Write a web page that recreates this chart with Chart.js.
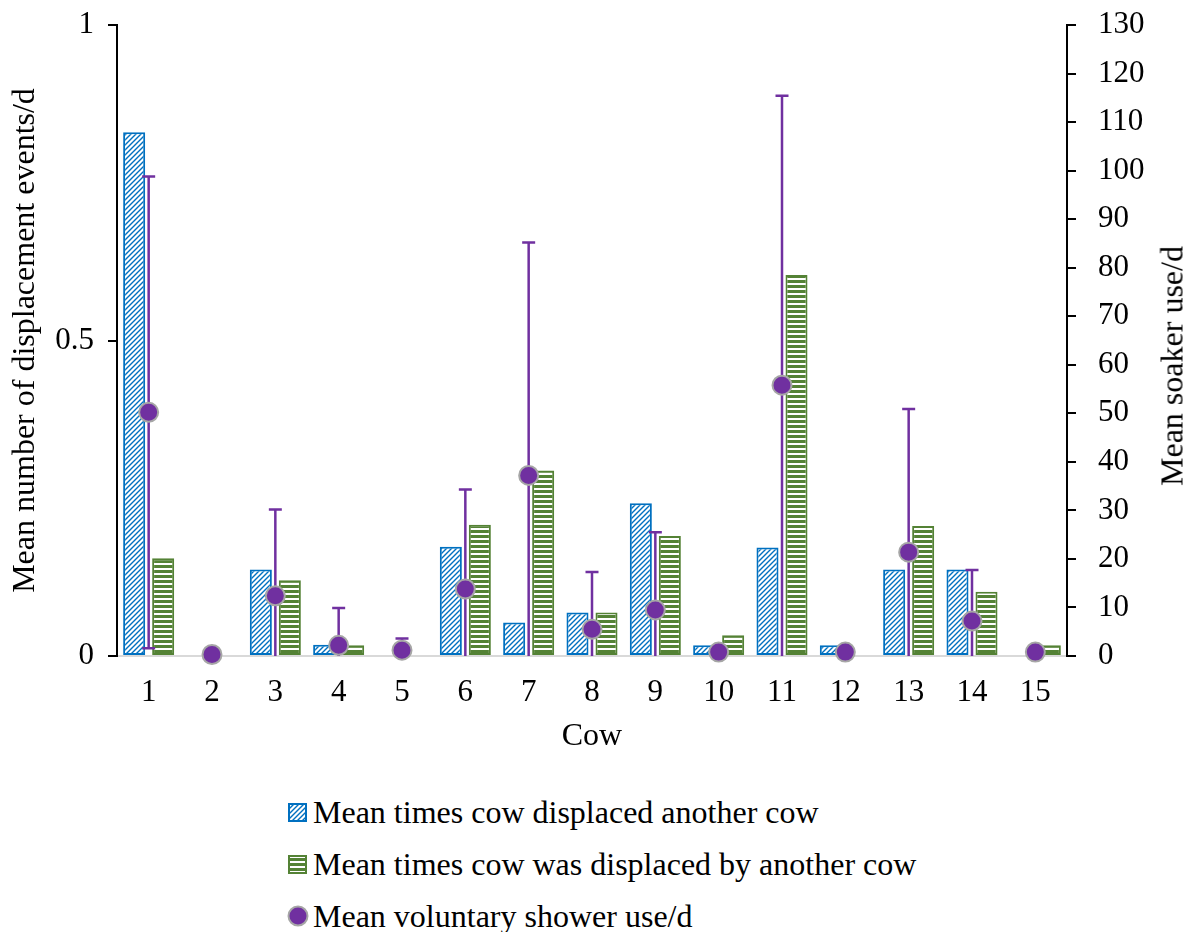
<!DOCTYPE html>
<html>
<head>
<meta charset="utf-8">
<title>Cow displacement and soaker use</title>
<script src="https://cdn.jsdelivr.net/npm/chart.js@4.4.1/dist/chart.umd.min.js"></script>
<style>
  body { margin: 0; background: #fff; font-family: 'Liberation Serif', 'Times New Roman', serif; }
  #wrap { position: relative; width: 1192px; height: 932px; overflow: hidden; }
  #chartBox { position: absolute; left: 0; top: 0; width: 1192px; height: 780px; }
  #rightTitle {
    position: absolute; left: 1172px; top: 366px;
    transform: translate(-50%, -50%) rotate(-90deg);
    font-size: 32px; white-space: nowrap; color: #000;
  }
  .legend-row {
    position: absolute; left: 287px; height: 40px;
    display: flex; align-items: center;
    font-size: 32px; color: #000; white-space: nowrap;
  }
  .legend-row canvas { margin-right: 4px; }
</style>
</head>
<body>
<div id="wrap">
  <div id="chartBox"><canvas id="cowChart"></canvas></div>
  <div id="rightTitle">Mean soaker use/d</div>
  <div class="legend-row" style="top:792px"><canvas id="swDisp" width="22" height="22"></canvas>Mean times cow displaced another cow</div>
  <div class="legend-row" style="top:844px"><canvas id="swWas" width="22" height="22"></canvas>Mean times cow was displaced by another cow</div>
  <div class="legend-row" style="top:896px"><canvas id="swShower" width="22" height="22"></canvas>Mean voluntary shower use/d</div>
</div>

<script>
// Data per cow
const cows = ['1', '2', '3', '4', '5', '6', '7', '8', '9', '10', '11', '12', '13', '14', '15'];
const displacedOther = [0.83, 0, 0.137, 0.018, 0, 0.173, 0.053, 0.069, 0.242, 0.017, 0.172, 0.017, 0.137, 0.137, 0];
const wasDisplaced = [0.155, 0, 0.12, 0.017, 0, 0.208, 0.294, 0.069, 0.19, 0.033, 0.604, 0, 0.206, 0.102, 0.017];
const showerMean = [50.2, 0.3, 12.4, 2.2, 1.2, 13.8, 37.2, 5.5, 9.5, 0.8, 55.8, 0.8, 21.4, 7.2, 0.8];
const showerSD = [48.6, 0, 17.8, 7.7, 2.4, 20.5, 48.0, 11.8, 16.0, 0, 59.6, 0, 29.5, 10.5, 0];
const leftTicks = [0, 0.5, 1];
const rightMax = 130;

const FONT = "'Liberation Serif', 'Times New Roman', serif";
const BLUE = '#0070C0';
const GREEN = '#548235';
const PURPLE = '#7030A0';

// Hatch fills
function makePattern(w, h, paint) {
    const c = document.createElement('canvas');
    c.width = w; c.height = h;
    const g = c.getContext('2d');
    g.fillStyle = '#fff';
    g.fillRect(0, 0, w, h);
    paint(g);
    return g.createPattern(c, 'repeat');
}
const blueHatch = makePattern(5, 5, g => {
    g.strokeStyle = BLUE;
    g.lineWidth = 1.4;
    g.beginPath();
    g.moveTo(0, 5); g.lineTo(5, 0);
    g.moveTo(-1, 1); g.lineTo(1, -1);
    g.moveTo(4, 6); g.lineTo(6, 4);
    g.stroke();
});
const greenLines = makePattern(4, 5, g => {
    g.fillStyle = GREEN;
    g.fillRect(0, 0, 4, 3);
});

// Vertical error bars for the shower series
const errorBars = {
    id: 'errorBars',
    beforeDatasetDraw(chart, args) {
        if (args.index !== 2) return;
        const xs = chart.scales.x, ys = chart.scales.y1, area = chart.chartArea;
        const ctx = chart.ctx;
        ctx.save();
        ctx.strokeStyle = PURPLE;
        ctx.lineWidth = 2.5;
        showerMean.forEach((m, i) => {
            const sd = showerSD[i];
            if (!sd) return;
            const px = xs.getPixelForValue(i);
            const top = ys.getPixelForValue(m + sd);
            const lo = m - sd;
            const bot = lo > 0 ? ys.getPixelForValue(lo) : area.bottom;
            ctx.beginPath();
            ctx.moveTo(px, top); ctx.lineTo(px, bot);
            ctx.moveTo(px - 6.5, top); ctx.lineTo(px + 6.5, top);
            if (lo > 0) { ctx.moveTo(px - 6.5, bot); ctx.lineTo(px + 6.5, bot); }
            ctx.stroke();
        });
        ctx.restore();
    }
};

const barBorder = ctx => (ctx.raw ? 2 : 0);

// vertical axes: fixed width, no extra label overflow padding
const fixVertical = w => s => {
    s.width = w;
    s.paddingTop = 0;
    s.paddingBottom = 0;
};

new Chart(document.getElementById('cowChart'), {
    data: {
        labels: cows,
        datasets: [{
            type: 'bar',
            label: 'Mean times cow displaced another cow',
            data: displacedOther,
            backgroundColor: blueHatch,
            borderColor: BLUE,
            borderWidth: barBorder,
            borderSkipped: false,
            yAxisID: 'y',
            order: 1,
            barPercentage: 0.76,
            categoryPercentage: 0.916
        }, {
            type: 'bar',
            label: 'Mean times cow was displaced by another cow',
            data: wasDisplaced,
            backgroundColor: greenLines,
            borderColor: GREEN,
            borderWidth: barBorder,
            borderSkipped: false,
            yAxisID: 'y',
            order: 2,
            barPercentage: 0.76,
            categoryPercentage: 0.916
        }, {
            type: 'line',
            label: 'Mean voluntary shower use/d',
            data: showerMean,
            showLine: false,
            pointRadius: 9.5,
            pointBorderWidth: 2,
            pointBackgroundColor: PURPLE,
            pointBorderColor: '#A6A6A6',
            yAxisID: 'y1',
            order: 0,
            clip: false
        }]
    },
    options: {
        responsive: true,
        maintainAspectRatio: false,
        animation: false,
        layout: { padding: { top: 25, left: 0, right: 0, bottom: 0 } },
        plugins: {
            legend: { display: false },
            tooltip: { enabled: false }
        },
        scales: {
            x: {
                offset: true,
                grid: { display: false, drawTicks: false },
                border: { display: true, color: '#D9D9D9', width: 2 },
                ticks: { color: '#000', font: { family: FONT, size: 31 }, padding: 18, maxRotation: 0 },
                title: { display: true, text: 'Cow', color: '#000', font: { family: FONT, size: 32 }, padding: { top: 0, bottom: 24 } },
                afterFit: s => { s.height = 124; }
            },
            y: {
                position: 'left',
                min: 0, max: 1,
                afterBuildTicks: s => { s.ticks = leftTicks.map(v => ({ value: v })); },
                grid: { drawOnChartArea: false, drawTicks: true, tickLength: 9, color: '#000', lineWidth: 2 },
                border: { display: true, color: '#000', width: 2 },
                ticks: { color: '#000', font: { family: FONT, size: 31 }, padding: 14, callback: v => String(v) },
                title: { display: true, text: 'Mean number of displacement events/d', color: '#000', font: { family: FONT, size: 32 }, padding: { top: 6, bottom: 0 } },
                afterFit: fixVertical(117)
            },
            y1: {
                position: 'right',
                min: 0, max: rightMax,
                ticks: { stepSize: 10, color: '#000', font: { family: FONT, size: 31 }, padding: 22 },
                grid: { drawOnChartArea: false, drawTicks: true, tickLength: 9, color: '#000', lineWidth: 2 },
                border: { display: true, color: '#000', width: 2 },
                afterFit: fixVertical(125)
            }
        }
    },
    plugins: [errorBars]
});

// Legend swatches
function swatch(id, paint) {
    const g = document.getElementById(id).getContext('2d');
    paint(g);
}
swatch('swDisp', g => {
    g.fillStyle = blueHatch;
    g.fillRect(2, 3, 17, 17);
    g.strokeStyle = BLUE; g.lineWidth = 2;
    g.strokeRect(2, 3, 17, 17);
});
swatch('swWas', g => {
    g.fillStyle = greenLines;
    g.fillRect(2, 3, 17, 17);
    g.strokeStyle = GREEN; g.lineWidth = 2;
    g.strokeRect(2, 3, 17, 17);
});
swatch('swShower', g => {
    g.beginPath();
    g.arc(11, 11, 9.5, 0, Math.PI * 2);
    g.fillStyle = PURPLE; g.fill();
    g.strokeStyle = '#A6A6A6'; g.lineWidth = 2; g.stroke();
});
</script>
</body>
</html>
